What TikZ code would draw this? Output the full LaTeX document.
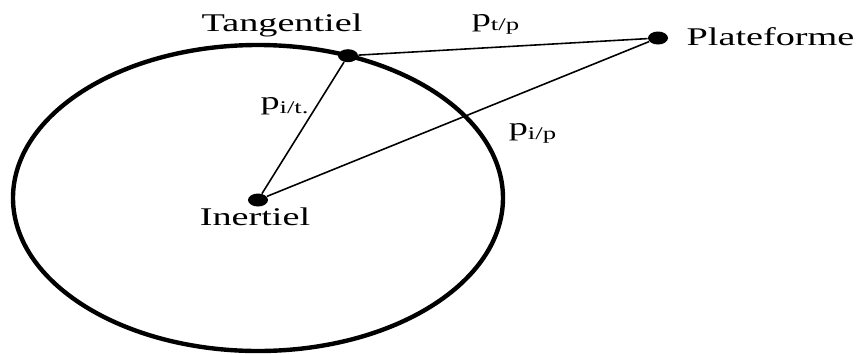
\documentclass[tikz,border=0pt]{standalone}
\usepackage{fontspec}
\setmainfont{Liberation Serif}[FakeStretch=1.5]
\usetikzlibrary{shapes.geometric}

\begin{document}
\begin{tikzpicture}[every node/.style={font=\fontsize{14.5}{17}\selectfont},
 dot/.style={ellipse,fill,inner sep=0pt,minimum width=4mm,minimum height=2.6mm},
 orbit/.style={line width=2.5pt},
 link/.style={line width=0.9pt}]
\useasboundingbox (-5.16,-3.06) rectangle (12.06,4);
\draw[orbit] (0,0.04) ellipse (4.9 and 3.06);
\node[dot] (I) at (0,0) {};
\node[dot] (T) at (1.8,2.886) {};
\node[dot] (P) at (8,3.24) {};
\node (In) at (-0.06,-0.33) {Inertiel};
\node (Tn) at (0.48,3.49) {Tangentiel};
\node[anchor=west] (Pn) at (8.45,3.27) {Plateforme};
\node (pit) at (0.54,1.88) {p\textsubscript{i/t.}};
\node (ptp) at (4.76,3.52) {p\textsubscript{t/p}};
\node (pip) at (5.5,1.34) {p\textsubscript{i/p}};
\draw[link] (I)--(T)--(P)--(I);
\end{tikzpicture}
\end{document}
